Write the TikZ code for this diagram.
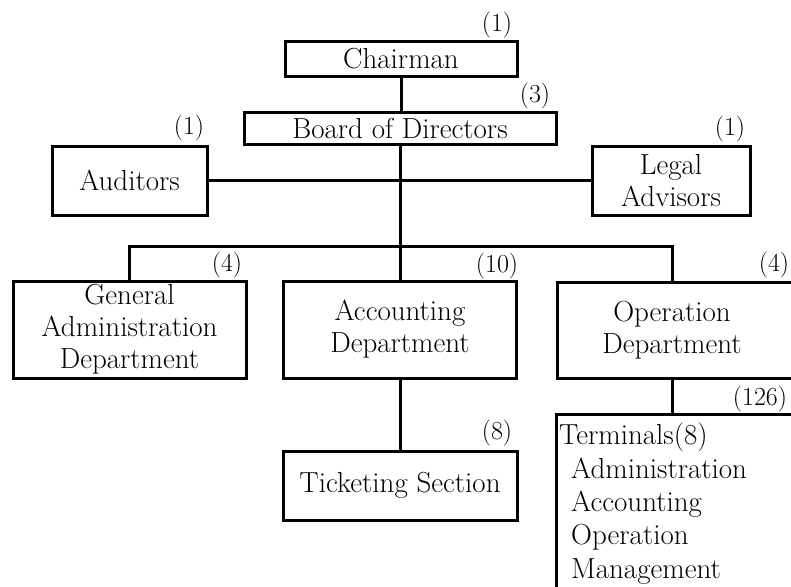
\documentclass[tikz,border=0pt]{standalone}
\begin{document}
\begin{tikzpicture}[x=1pt,y=-1pt,
  every node/.style={font=\fontsize{29}{32}\selectfont, inner sep=0pt},
  box/.style={draw, line width=3pt, align=center},
  cnt/.style={anchor=center, font=\fontsize{26}{30}\selectfont},
  link/.style={line width=3pt}]
\useasboundingbox (0,0) rectangle (791,586);
% boxes
\node[box, minimum width=232, minimum height=34] (chair) at (401,59) {Chairman};
\node[box, minimum width=312, minimum height=32] (board) at (400,128) {Board of Directors};
\node[box, minimum width=155, minimum height=69] (aud) at (129.5,180.5) {Auditors};
\node[box, minimum width=158, minimum height=69] (legal) at (671,180.5) {Legal\\Advisors};
\node[box, minimum width=233, minimum height=97] (gen) at (129.5,329.5) {General\\Administration\\Department};
\node[box, minimum width=233, minimum height=97] (acc) at (400,329.5) {Accounting\\Department};
\node[box, minimum width=250, minimum height=96] (op) at (682,330) {};
\node (opt) at (672,330) [align=center] {Operation\\Department};
\node[box, minimum width=234, minimum height=69] (tick) at (400,485.5) {Ticketing Section};
\node[box, minimum width=260, minimum height=200, anchor=north west] (term) at (555,413) {};
\node[anchor=west, align=left, font=\fontsize{29}{33.3}\selectfont] (termt) at (559,503.5)
  {Terminals(8)\\\hspace*{12pt}Administration\\\hspace*{12pt}Accounting\\\hspace*{12pt}Operation\\\hspace*{12pt}Management};
% counts
\node[cnt] (c1) at (497,25) {(1)};
\node[cnt] (c2) at (535,96) {(3)};
\node[cnt] (c3) at (189,128) {(1)};
\node[cnt] (c4) at (730,129) {(1)};
\node[cnt] (c5) at (227,265) {(4)};
\node[cnt] (c6) at (497,266) {(10)};
\node[cnt] (c7) at (774,265) {(4)};
\node[cnt] (c8) at (760,399) {(126)};
\node[cnt] (c9) at (497,433) {(8)};
% connectors
\coordinate (bus) at (400,246);
\draw[link] (chair.south) -- (chair.south |- board.north);
\draw[link] (board.south) -- (bus);
\draw[link] (aud.east) -- (legal.west);
\draw[link] (gen.north) -- (gen.north |- bus) -- (bus -| opt) -- (opt |- op.north);
\draw[link] (bus) -- (acc.north);
\draw[link] (acc.south) -- (tick.north);
\draw[link] (opt |- op.south) -- (opt |- term.north);
\end{tikzpicture}
\end{document}
